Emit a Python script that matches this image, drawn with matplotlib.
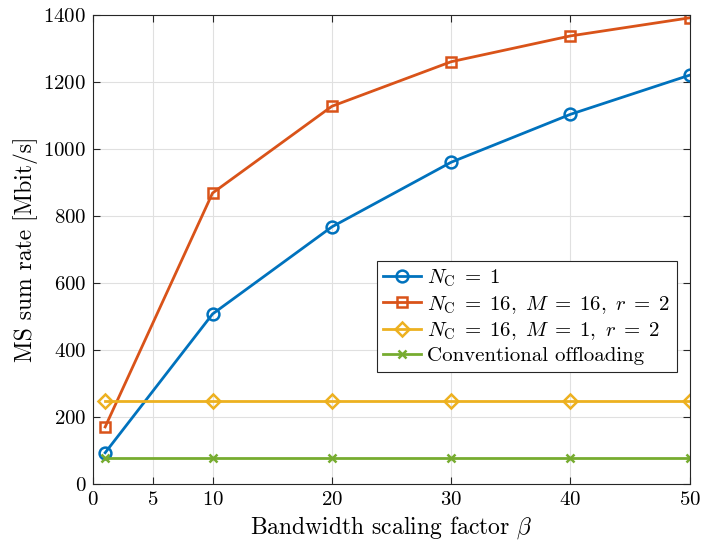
import numpy as np
import matplotlib.pyplot as plt

plt.rcParams['font.family'] = 'serif'
plt.rcParams['font.serif'] = ['cmr10']
plt.rcParams['mathtext.fontset'] = 'cm'
plt.rcParams['axes.formatter.use_mathtext'] = True

# bandwidth scaling factor
beta = [1, 10, 20, 30, 40, 50]

# MS sum rate [Mbit/s]
rate_nc1 = [93, 507, 767, 960, 1103, 1220]
rate_nc16_m16 = [170, 868, 1127, 1260, 1337, 1391]
rate_nc16_m1 = [247, 247, 247, 247, 247, 247]
rate_conv = [78, 78, 78, 78, 78, 78]

xticks = [0, 5, 10, 20, 30, 40, 50]
yticks = [0, 200, 400, 600, 800, 1000, 1200, 1400]

fig = plt.figure(figsize=(7.01, 5.48), dpi=100)
ax = fig.add_axes([0.133, 0.117, 0.851, 0.856])

lw = 2.0
ax.plot(beta, rate_nc1, '-o', color='#0072BD', lw=lw, ms=8.5, mfc='none', mew=1.8,
        label=r'$N_{\mathrm{C}}\;=\;1$')
ax.plot(beta, rate_nc16_m16, '-s', color='#D95319', lw=lw, ms=7, mfc='none', mew=1.8,
        label=r'$N_{\mathrm{C}}\;=\;16,\ M\;=\;16,\ r\;=\;2$')
ax.plot(beta, rate_nc16_m1, '-D', color='#EDB120', lw=lw, ms=7, mfc='none', mew=1.8,
        label=r'$N_{\mathrm{C}}\;=\;16,\ M\;=\;1,\ r\;=\;2$')
ax.plot(beta, rate_conv, '-x', color='#77AC30', lw=lw, ms=6, mew=1.8,
        label='Conventional offloading')

ax.set_xlim(0, 50)
ax.set_ylim(0, 1400)
ax.set_xticks(xticks)
ax.set_yticks(yticks)
ax.tick_params(direction='in', top=True, right=True, labelsize=15, length=5,
               color='#262626', pad=5)
ax.grid(True, color='#e0e0e0', lw=0.8)
ax.set_axisbelow(True)
for s in ax.spines.values():
    s.set_color('#262626')
    s.set_linewidth(0.8)

ax.set_xlabel(r'Bandwidth scaling factor $\beta$', fontsize=17)
ax.set_ylabel('MS sum rate [Mbit/s]', fontsize=17)

leg = ax.legend(loc='center right', bbox_to_anchor=(0.978, 0.357), fontsize=15,
                fancybox=False, framealpha=1, edgecolor='#262626',
                borderpad=0.3, labelspacing=0.22, handlelength=1.8, handletextpad=0.3,
                borderaxespad=0)
leg.get_frame().set_linewidth(0.8)

fig.savefig('out.png', dpi=100)
